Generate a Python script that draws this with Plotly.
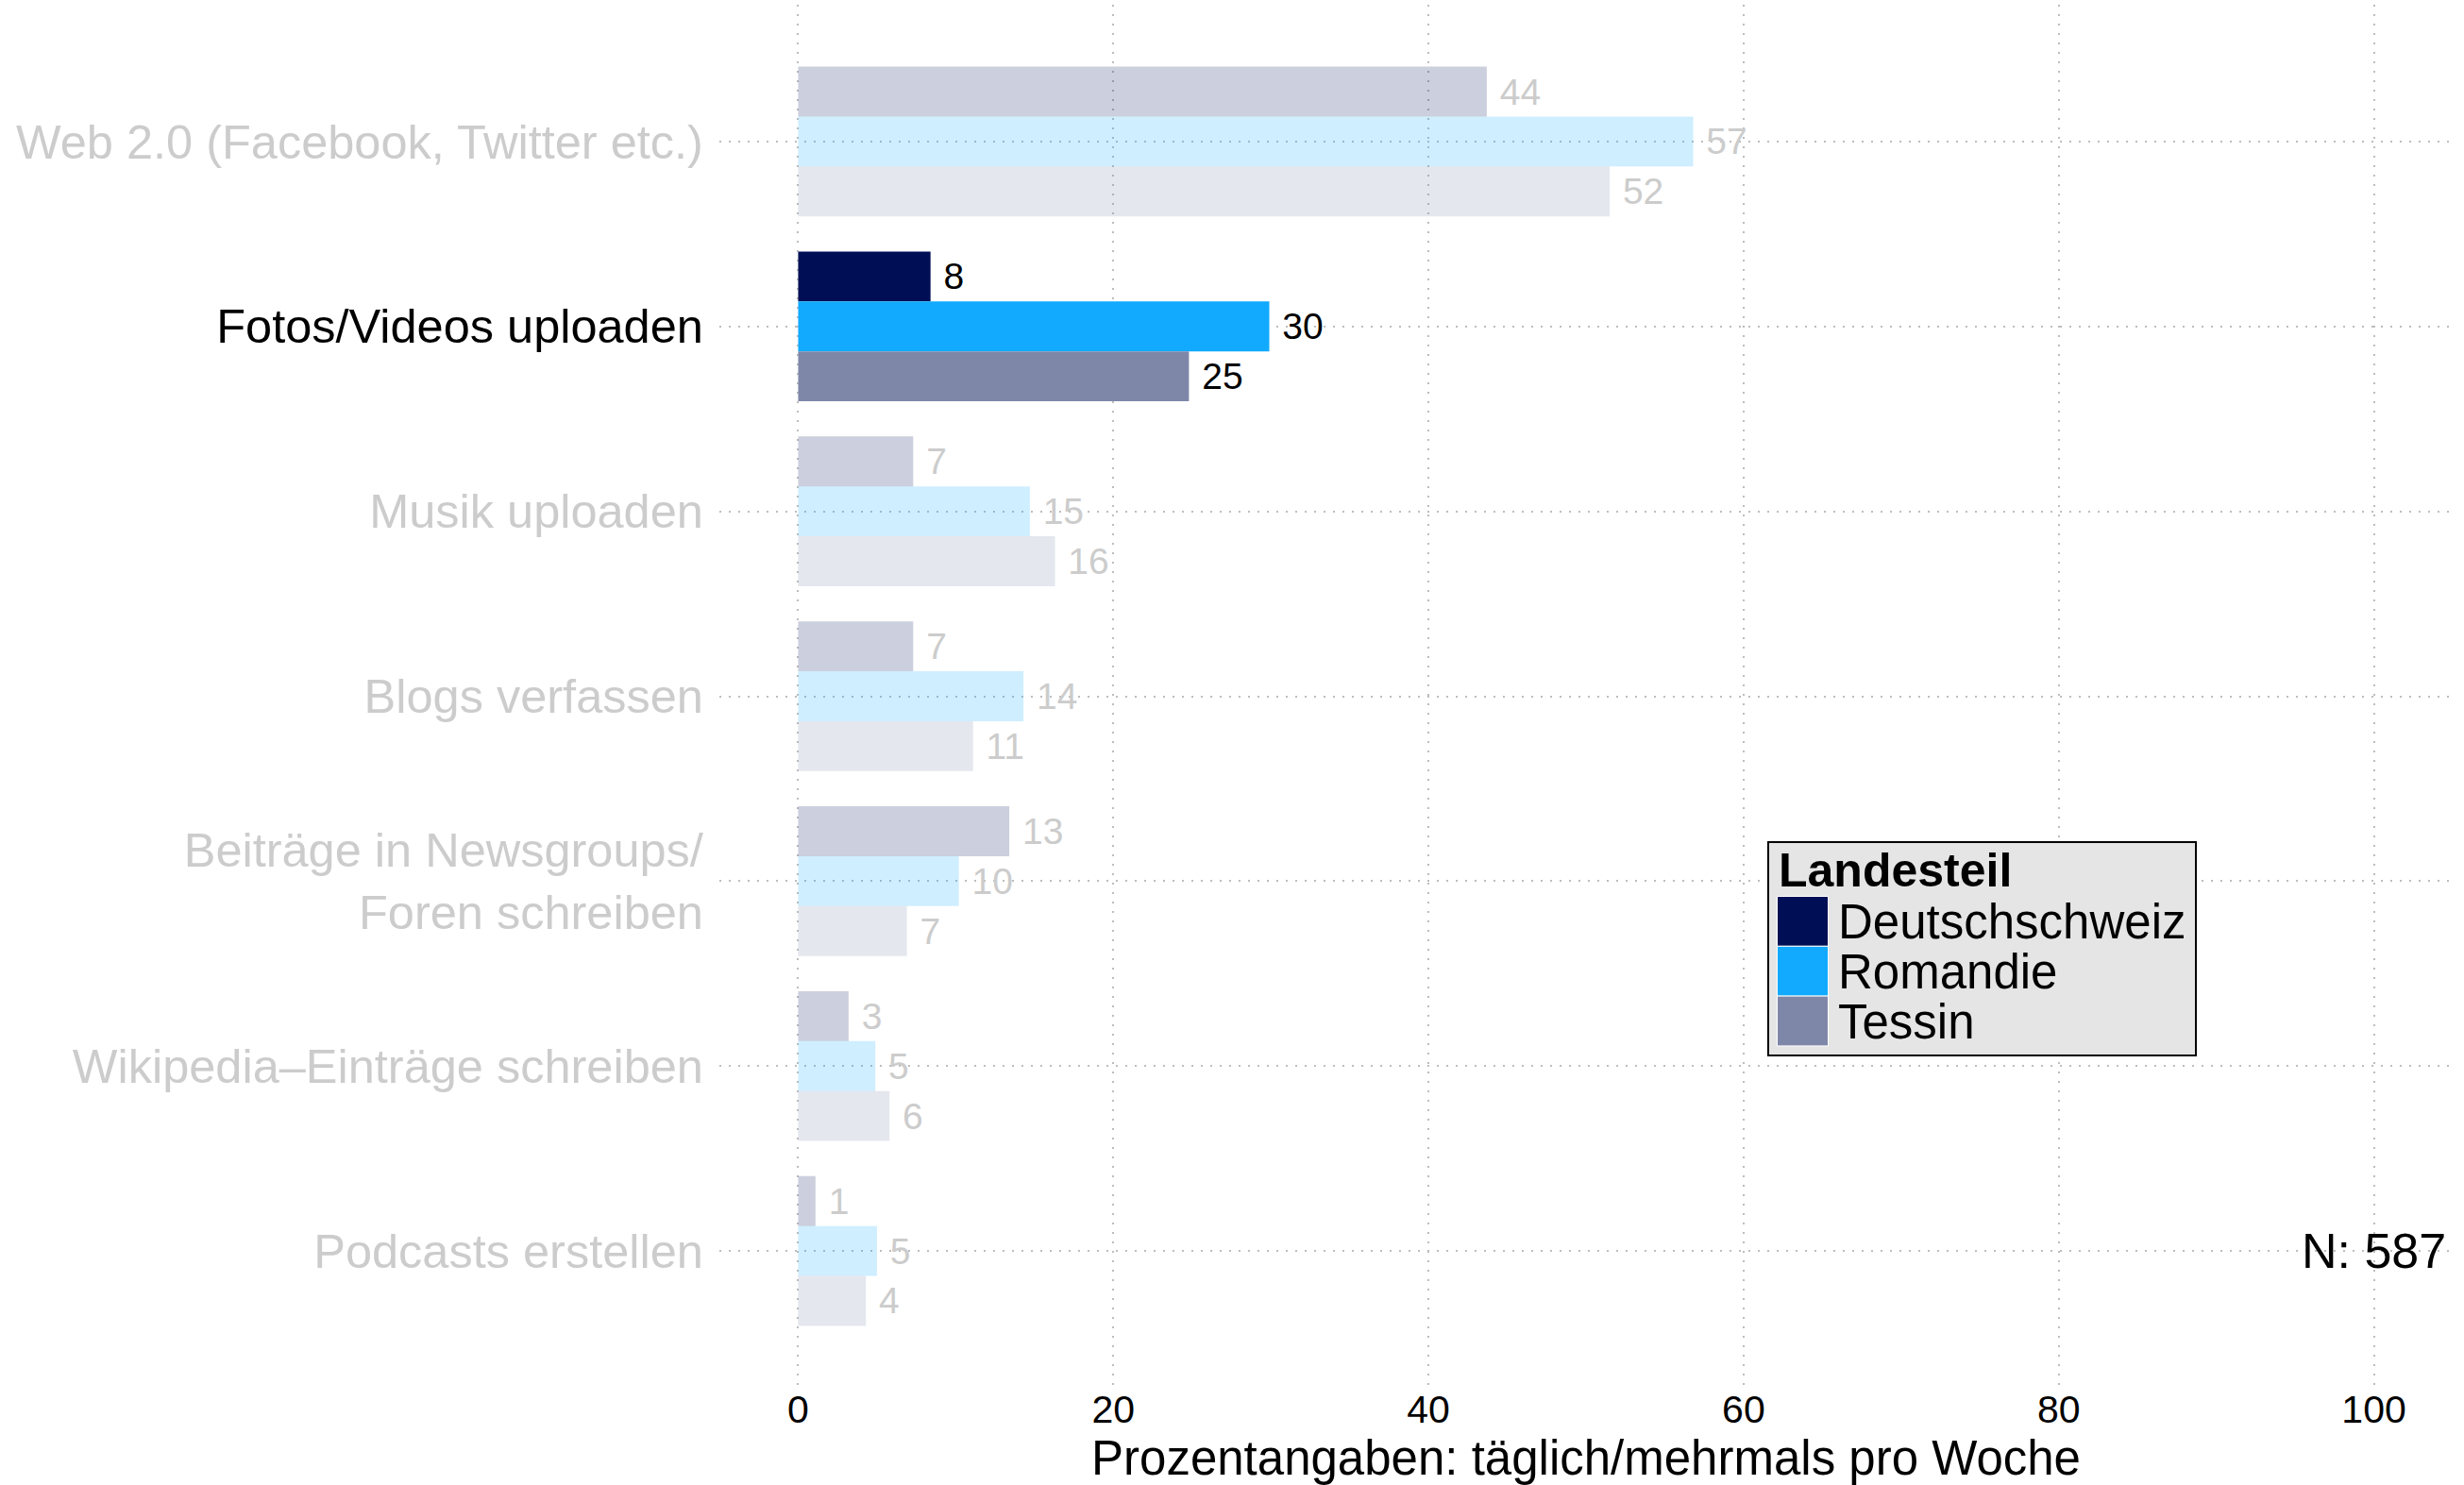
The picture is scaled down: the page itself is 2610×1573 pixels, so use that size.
import plotly.graph_objects as go

# Survey: share of respondents doing each activity daily / several times a week
categories = [
    "Web 2.0 (Facebook, Twitter etc.)",
    "Fotos/Videos uploaden",
    "Musik uploaden",
    "Blogs verfassen",
    "Beiträge in Newsgroups/ Foren schreiben",
    "Wikipedia\u2013Einträge schreiben",
    "Podcasts erstellen",
]
tick_labels = [
    "Web 2.0 (Facebook, Twitter etc.)",
    "Fotos/Videos uploaden",
    "Musik uploaden",
    "Blogs verfassen",
    "Beiträge in Newsgroups/<br>Foren schreiben",
    "Wikipedia\u2013Einträge schreiben",
    "Podcasts erstellen",
]
regions = ["Deutschschweiz", "Romandie", "Tessin"]
deutschschweiz = [43.7, 8.4, 7.3, 7.3, 13.4, 3.2, 1.1]
romandie = [56.8, 29.9, 14.7, 14.3, 10.2, 4.9, 5.0]
tessin = [51.5, 24.8, 16.3, 11.1, 6.9, 5.8, 4.3]
series = [deutschschweiz, romandie, tessin]
palette = [(0, 15, 85), (17, 170, 255), (127, 135, 169)]
highlight = "Fotos/Videos uploaden"
sample_note = "N: 587"
x_ticks = [0, 20, 40, 60, 80, 100]
x_title = "Prozentangaben: täglich/mehrmals pro Woche"

FONT = "Liberation Sans, Arial, Helvetica, sans-serif"
FADE = 0.2
MUTED_TEXT = "#cccccc"

W, H = 2610, 1573
M_L, M_R, M_T, M_B = 762, 12, 5, 103


def rgba(c, a):
    return f"rgba({c[0]},{c[1]},{c[2]},{a})"


def px_x(p):
    return (p - M_L) / (W - M_L - M_R)


def px_y(p):
    return (H - M_B - p) / (H - M_T - M_B)


fig = go.Figure()
for name, vals, col in zip(regions, series, palette):
    on = [c == highlight for c in categories]
    fig.add_trace(go.Bar(
        name=name,
        y=categories,
        x=vals,
        orientation="h",
        marker=dict(color=[rgba(col, 1 if h else FADE) for h in on], line=dict(width=0)),
        texttemplate="\u00a0%{x:.0f}",
        textposition="outside",
        constraintext="none",
        cliponaxis=False,
        textfont=dict(family=FONT, size=39, color=["#000000" if h else MUTED_TEXT for h in on]),
        showlegend=False,
        hoverinfo="x+y+name",
    ))

ticktext = [
    f"<span style='color:#000000'>{t}</span>" if c == highlight else t
    for c, t in zip(categories, tick_labels)
]

grid = dict(showgrid=True, gridcolor="#bdbdbd", gridwidth=2, griddash="2px,8px")

fig.update_layout(
    width=W, height=H,
    margin=dict(l=M_L, r=M_R, t=M_T, b=M_B, pad=0),
    paper_bgcolor="white", plot_bgcolor="white",
    barmode="group", bargap=0.19, bargroupgap=0,
    font=dict(family=FONT, color="black"),
    xaxis=dict(
        range=[-5, 105], tickvals=x_ticks, zeroline=False, showline=False,
        ticks="", ticklabelstandoff=-5,
        tickfont=dict(size=41, color="black"),
        title=dict(text=x_title, font=dict(size=51, color="black"), standoff=0),
        automargin=False, **grid,
    ),
    yaxis=dict(
        type="category", categoryorder="array", categoryarray=categories,
        range=[len(categories) - 1 + 0.74, -0.74],
        tickvals=categories, ticktext=ticktext,
        ticks="outside", ticklen=6, tickcolor="rgba(0,0,0,0)",
        tickfont=dict(size=50.5, color=MUTED_TEXT),
        zeroline=False, showline=False, automargin=False, **grid,
    ),
)

# Sample size note next to the last category
fig.add_annotation(
    x=px_x(2593), xref="paper", y=categories[-1], yref="y",
    text=sample_note, showarrow=False, xanchor="right", yanchor="middle",
    font=dict(family=FONT, size=52, color="black"),
)

# Legend panel: grey box, bold title, large colour keys
box = (1873, 892, 2326, 1118)
fig.add_shape(type="rect", xref="paper", yref="paper",
              x0=px_x(box[0]), x1=px_x(box[2]), y0=px_y(box[3]), y1=px_y(box[1]),
              fillcolor="#e5e5e5", line=dict(color="black", width=2), layer="above")
fig.add_annotation(x=px_x(1882), xref="paper", y=px_y(922), yref="paper",
                   text="<b>Landesteil</b>", showarrow=False,
                   xanchor="left", yanchor="middle",
                   font=dict(family=FONT, size=50, color="black"))
key_top, key_h, key_w = 949.5, 52.8, 54
for i, (name, col) in enumerate(zip(regions, palette)):
    y0 = key_top + i * key_h
    fig.add_shape(type="rect", xref="paper", yref="paper",
                  x0=px_x(1882.5), x1=px_x(1882.5 + key_w),
                  y0=px_y(y0 + key_h), y1=px_y(y0),
                  fillcolor=rgba(col, 1), line=dict(color="white", width=1), layer="above")
    fig.add_annotation(x=px_x(1945), xref="paper", y=px_y(y0 + key_h / 2 + 1), yref="paper",
                       text=name, showarrow=False, xanchor="left", yanchor="middle",
                       font=dict(family=FONT, size=51, color="black"))

fig.write_html("out.html")
